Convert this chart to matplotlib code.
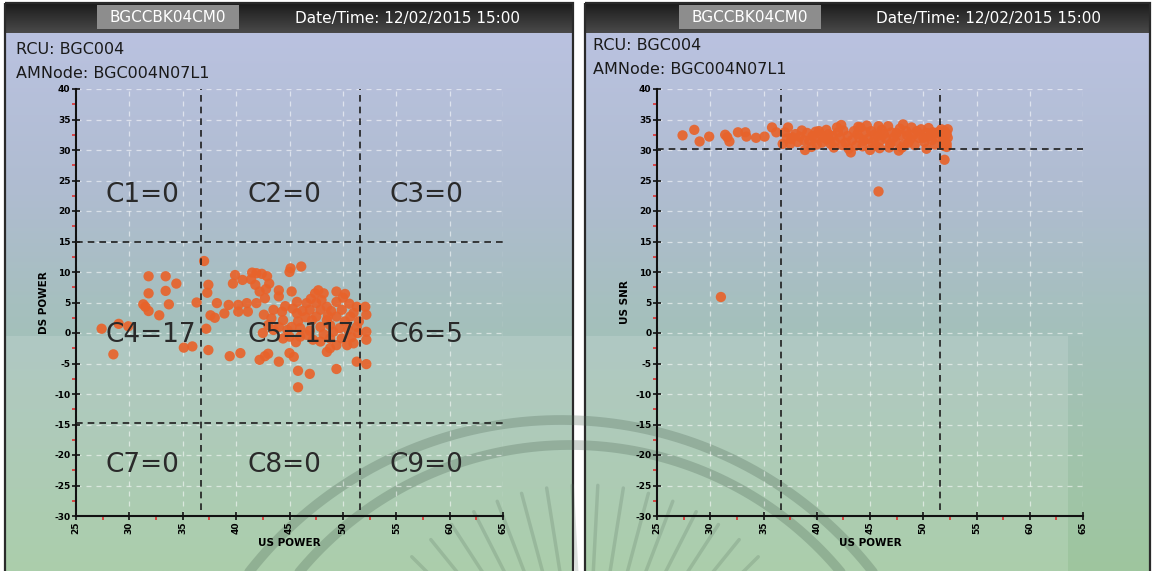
import numpy as np
import matplotlib.pyplot as plt
from matplotlib.colors import LinearSegmentedColormap
from matplotlib.patches import Rectangle
from matplotlib.ticker import MultipleLocator

plt.rcParams['axes.unicode_minus'] = False
plt.rcParams['font.family'] = ['DejaVu Sans']

# ---- data ----
device = 'BGCCBK04CM0'
date_txt = 'Date/Time: 12/02/2015 15:00'
rcu = 'RCU: BGC004'
amnode = 'AMNode: BGC004N07L1'

# left chart: US power vs DS power
left_us = [
    # C4
    31.8, 33.4, 34.4, 31.8, 33.4, 36.3, 33.7, 31.5, 31.8, 32.8, 27.4, 29.0, 29.9, 28.5, 35.1, 35.9, 31.3,
    # C6
    52.1, 52.2, 52.2, 52.2, 52.2,
    # C5
    37.0, 37.4, 37.3, 38.2, 39.3, 37.6, 38.0, 38.9, 37.2, 37.4, 39.4,
    39.9, 39.7, 40.6, 41.5, 41.9, 42.4, 42.9, 41.8, 42.2, 42.7, 43.1, 45.1, 46.1, 45.0,
    44.0, 44.0, 45.2, 45.7, 46.6, 47.4, 48.2, 49.4, 50.2, 47.5, 48.5, 49.4, 51.3,
    40.2, 40.2, 41.0, 41.1, 41.9, 43.5, 44.3, 43.3, 44.4, 45.7, 45.8, 45.2, 46.0,
    46.9, 47.9, 47.5, 47.1, 48.5, 47.9, 48.8, 49.4, 50.2, 50.7, 49.7, 50.5, 51.3, 51.5, 51.4,
    42.5, 43.5, 44.4, 45.0, 46.0, 46.6, 47.2, 47.9, 48.8, 49.4, 50.4, 51.0,
    40.4, 42.2, 42.7, 43.0, 44.0, 45.0, 45.4, 45.8, 46.9, 45.8, 48.5, 48.8, 49.4, 51.3,
    44.6, 45.3, 46.2, 46.5, 47.0, 48.0, 48.9, 49.9, 50.6, 51.0, 50.0, 48.6, 49.1,
    48.2, 46.9, 45.6, 44.8, 44.0, 43.0, 42.6, 41.4, 42.8, 47.7, 50.8, 49.9,
]
left_ds = [
    9.3, 9.3, 8.1, 6.5, 6.9, 5.0, 4.7, 4.3, 3.6, 2.9, 0.7, 1.5, 1.1, -3.5, -2.4, -2.2, 4.7,
    4.3, 3.0, 0.2, -1.1, -5.1,
    11.8, 7.9, 6.6, 4.9, 4.6, 2.9, 2.5, 3.2, 0.7, -2.8, -3.8,
    9.5, 8.1, 8.7, 9.9, 9.8, 9.7, 9.3, 7.9, 6.8, 5.7, 8.1, 10.6, 10.9, 10.0,
    7.0, 6.0, 6.8, 5.1, 4.9, 6.5, 6.5, 6.8, 6.4, 4.9, 4.3, 5.1, 4.3,
    4.6, 3.5, 4.9, 3.5, 4.9, 3.8, 3.5, 2.4, 2.1, 3.2, 1.9, 1.0, 0.8,
    3.8, 3.8, 2.7, 2.1, 2.1, 1.0, 1.3, 2.7, 1.9, 2.7, 0.8, 0.5, 1.0, 1.9, 0.0,
    0.0, 0.5, -0.9, -0.6, -0.6, -0.3, -1.1, -1.4, -0.9, -2.0, -2.0, -1.7,
    -3.3, -4.4, -3.8, -3.4, -4.7, -3.3, -3.9, -6.2, -6.7, -8.9, -3.1, -2.5, -5.9, -4.7,
    4.4, 4.0, 3.6, 2.6, 5.6, 5.4, 3.6, 3.8, 4.8, 3.3, 5.8, 2.8, 0.2,
    -0.2, 0.4, -1.5, 0.5, 1.0, 1.3, 3.0, 8.8, 7.2, 7.0, -0.7, -0.9,
]
left_vlines = [36.7, 51.6]
left_hlines = [15.0, -14.8]
cell_names = ['C1=0', 'C2=0', 'C3=0', 'C4=17', 'C5=117', 'C6=5', 'C7=0', 'C8=0', 'C9=0']
cell_x = [27.8, 41.1, 54.4]
cell_y = [22.6, -0.3, -21.6]

# right chart: US power vs US SNR
right_us = [
    27.4, 28.5, 29.0, 29.9, 31.4, 31.6, 31.8, 32.6, 33.3, 33.4, 34.3, 35.1, 35.8, 36.2, 36.8, 37.3, 37.7, 38.2, 38.0,
    37.6, 38.9, 39.6, 40.2, 40.7, 41.1, 40.5, 41.3, 41.9, 42.2, 42.7, 43.0, 43.2, 43.8, 44.1, 44.4, 45.2, 45.0, 45.8,
    45.7, 46.3, 46.9, 47.2, 47.7, 47.5, 48.1, 48.4, 48.8, 49.4, 50.0, 50.6, 51.2, 51.7, 51.9, 52.2, 52.2, 52.0, 45.8, 31.0,
    37.0, 37.2, 37.5, 38.4, 38.6, 38.8, 39.1, 39.3, 39.8, 39.9,
    40.0, 40.4, 40.9, 41.0, 41.5, 41.7, 42.0, 42.4, 42.5, 42.9,
    43.3, 43.5, 43.7, 44.0, 44.3, 44.6, 44.8, 45.1, 45.4, 45.5,
    46.0, 46.1, 46.5, 46.7, 46.8, 47.0, 47.4, 47.8, 47.9, 48.2,
    48.5, 48.6, 48.9, 49.1, 49.2, 49.6, 49.8, 50.1, 50.3, 50.5,
    50.8, 50.9, 51.1, 51.4, 51.5, 51.8, 52.0, 52.3, 52.1, 51.9,
    52.3, 52.2, 41.6, 39.5, 43.9, 45.9, 48.0, 50.3, 44.7, 42.3,
]
right_snr = [
    32.4, 33.3, 31.4, 32.2, 32.5, 32.1, 31.4, 32.9, 32.9, 32.2, 32.0, 32.2, 33.7, 32.9, 31.0, 33.7, 32.1, 31.3, 32.6,
    31.8, 30.0, 32.3, 33.1, 32.0, 32.6, 31.2, 31.0, 33.7, 32.0, 31.2, 30.2, 29.6, 32.6, 33.7, 31.5, 31.2, 30.0, 33.9,
    32.3, 32.6, 31.0, 32.0, 29.9, 32.8, 34.2, 33.1, 31.8, 33.1, 32.0, 32.3, 32.8, 33.4, 31.8, 31.0, 32.6, 28.4, 23.2, 5.9,
    32.9, 31.9, 31.0, 32.2, 33.2, 31.6, 32.8, 31.5, 31.9, 33.0,
    30.9, 32.5, 33.3, 31.7, 32.3, 31.4, 32.9, 30.8, 33.2, 32.3,
    31.6, 33.1, 30.7, 32.0, 30.6, 32.9, 31.8, 33.1, 32.5, 30.8,
    31.6, 33.3, 31.9, 33.9, 30.4, 32.9, 31.4, 33.5, 32.4, 30.9,
    32.4, 31.2, 33.7, 32.5, 30.8, 32.0, 33.4, 31.3, 32.8, 33.6,
    31.6, 32.9, 30.9, 32.1, 33.0, 32.4, 33.1, 32.0, 31.4, 30.7,
    33.4, 30.5, 30.4, 30.5, 33.8, 30.3, 30.4, 30.2, 34.0, 34.1,
]
right_vlines = [36.6, 51.6]
right_hlines = [30.2]

# ---- figure / background (pixel coordinates) ----
W, H = 1152, 571
fig = plt.figure(figsize=(11.52, 5.71), dpi=100)
fig.patch.set_facecolor('white')
bg = fig.add_axes([0, 0, 1, 1])
bg.set_xlim(0, W)
bg.set_ylim(H, 0)
bg.axis('off')

body_cmap = LinearSegmentedColormap.from_list(
    'body', [(0, '#bac2e0'), (0.3, '#afbcd0'), (0.55, '#a4c0bb'), (1, '#9ec69e')])
head_cmap = LinearSegmentedColormap.from_list('head', ['#1b1b1b', '#4a4a4a'])
grad = np.linspace(0, 1, 256).reshape(-1, 1)

panels = [(5, 573, 97, 295, 16, 50), (585, 1150, 679, 876, 593, 46)]
for x0, x1, box_x, date_x, info_x, info_y in panels:
    bg.imshow(grad, cmap=body_cmap, extent=(x0, x1, H, 33), aspect='auto', zorder=0)
    light_x1 = x1 if x0 < 300 else 1068
    bg.add_patch(Rectangle((x0, 336), light_x1 - x0, H - 336, fc='white', alpha=0.14, ec='none', zorder=1))
    bg.imshow(grad, cmap=head_cmap, extent=(x0, x1, 33, 3), aspect='auto', zorder=2)
    bg.add_patch(Rectangle((box_x, 5), 142, 24, fc='#8d8d8d', ec='none', zorder=3))
    bg.text(box_x + 71, 17, device, color='white', fontsize=11, ha='center', va='center', zorder=4)
    bg.text(date_x, 19, date_txt, color='white', fontsize=11, ha='left', va='center', zorder=4)
    bg.text(info_x, info_y, rcu, color='#1a1a1a', fontsize=11.5, ha='left', va='center', zorder=4)
    bg.text(info_x, info_y + 23, amnode, color='#1a1a1a', fontsize=11.5, ha='left', va='center', zorder=4)
    bg.add_patch(Rectangle((x0, 3), x1 - x0, H, fill=False, ec='#2a2a2a', lw=1.6, zorder=5))

# watermark arcs and fronds
wm = '#4d6655'
t = np.linspace(0, np.pi, 300)
for cx, cy, r in [(561, 816, 396), (570, 797, 352)]:
    bg.plot(cx + r * np.cos(t), cy - r * np.sin(t), color=wm, lw=7, alpha=0.28,
            solid_capstyle='round', zorder=6)
for ang in np.deg2rad(np.arange(45, 136, 6)):
    bg.plot([585 + 150 * np.cos(ang), 585 + 245 * np.cos(ang)],
            [730 - 150 * np.sin(ang), 730 - 245 * np.sin(ang)],
            color=wm, lw=2.5, alpha=0.2, solid_capstyle='round', zorder=6)


def make_panel(rect, xs, ys, vlines, hlines, ylabel):
    ax = fig.add_axes(rect)
    ax.patch.set_alpha(0)
    ax.set_xlim(25, 65)
    ax.set_ylim(-30, 40)
    for s in ['top', 'right']:
        ax.spines[s].set_visible(False)
    for s in ['left', 'bottom']:
        ax.spines[s].set_linewidth(1.5)
        ax.spines[s].set_color('#111111')
    ax.xaxis.set_major_locator(MultipleLocator(5))
    ax.yaxis.set_major_locator(MultipleLocator(5))
    ax.xaxis.set_minor_locator(MultipleLocator(2.5))
    ax.yaxis.set_minor_locator(MultipleLocator(2.5))
    ax.tick_params(which='major', direction='inout', length=6, width=1.2, color='#111111',
                   labelsize=6.5, pad=1)
    ax.tick_params(which='minor', direction='out', length=3, width=1.2, color='#e03030')
    for lb in ax.get_xticklabels() + ax.get_yticklabels():
        lb.set_fontweight('bold')
    for lb in ax.get_xticklabels():
        lb.set_rotation(90)
    ax.grid(which='major', color='white', ls=(0, (4, 4)), lw=0.9, alpha=0.55)
    ax.set_axisbelow(True)
    ax.scatter(xs, ys, s=55, c='#e8632b', alpha=0.92, edgecolors='none', zorder=3)
    for v in vlines:
        ax.plot([v, v], [-29, 40], color='#1e1e1e', ls=(0, (4, 3)), lw=1.2, zorder=4)
    for h in hlines:
        ax.plot([25, 65], [h, h], color='#1e1e1e', ls=(0, (4, 3)), lw=1.2, zorder=4)
    ax.set_xlabel('US POWER', fontsize=7.5, fontweight='bold', labelpad=3)
    ax.set_ylabel(ylabel, fontsize=7.5, fontweight='bold', labelpad=4)
    return ax


ax1 = make_panel([76 / W, 1 - 516 / H, 427 / W, 427 / H], left_us, left_ds,
                 left_vlines, left_hlines, 'DS POWER')
for i, name in enumerate(cell_names):
    ax1.text(cell_x[i % 3], cell_y[i // 3], name, fontsize=19, color='#2a2a2a',
             ha='left', va='center', zorder=5)

ax2 = make_panel([657 / W, 1 - 516 / H, 426 / W, 427 / H], right_us, right_snr,
                 right_vlines, right_hlines, 'US SNR')

fig.savefig('out.png', dpi=100)
